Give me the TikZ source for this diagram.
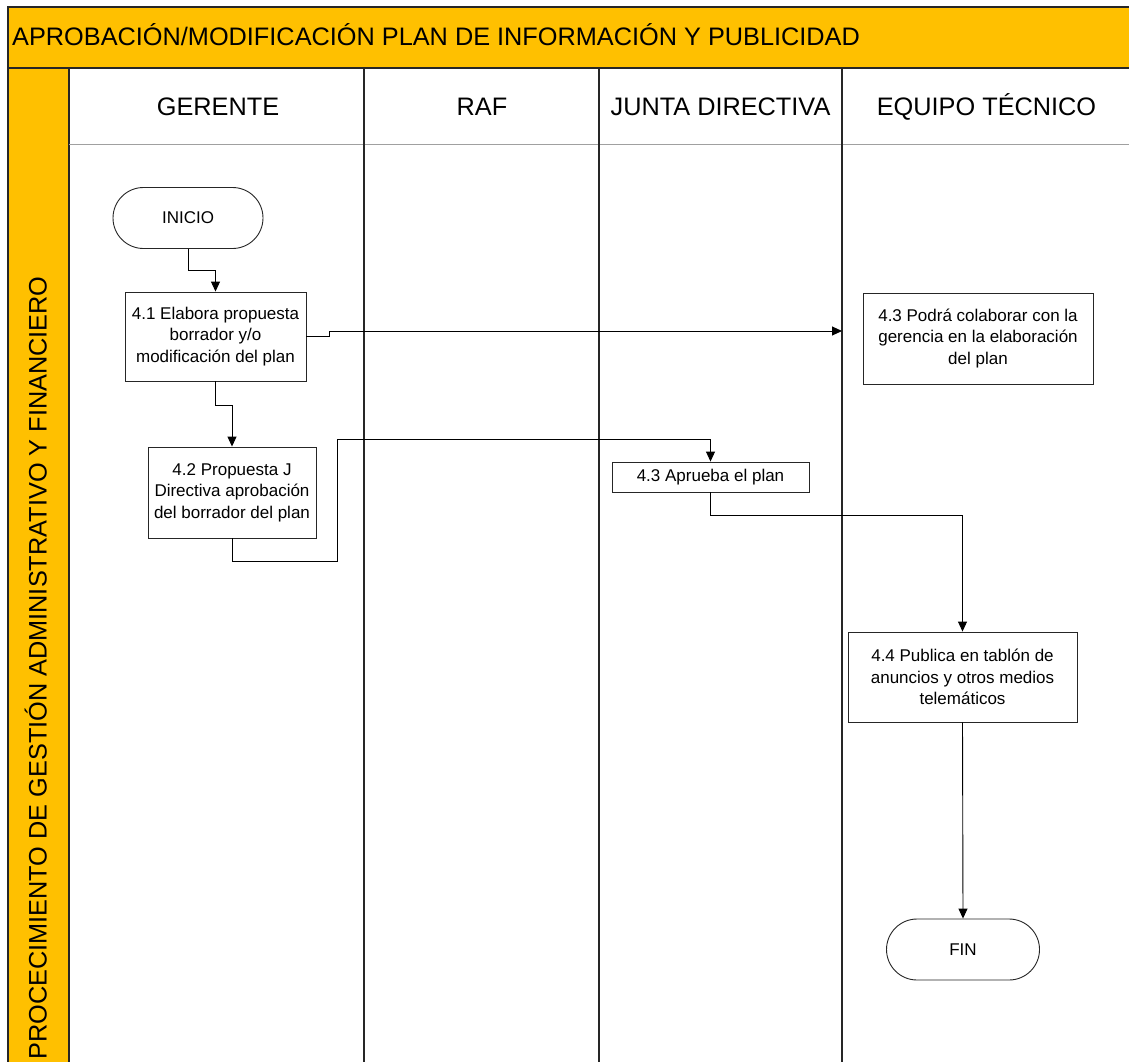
\documentclass[tikz,border=0pt]{standalone}
\usepackage{fontspec}
\setmainfont{Liberation Sans}
\usetikzlibrary{arrows.meta,shapes.misc,calc}

\definecolor{bandorange}{HTML}{FFC000}
\definecolor{headline}{HTML}{A0A0A0}

\begin{document}
\begin{tikzpicture}[x=1pt,y=-1pt,
  stepbox/.style={draw=black!85, line width=0.9pt, fill=white, inner sep=0pt,
    align=center, font=\fontsize{17}{21.5}\selectfont},
  terminal/.style={stepbox, rounded rectangle},
  flow/.style={draw=black, line width=0.9pt, -{Triangle[length=10pt,width=9pt]}},
  lane/.style={draw=black!85, line width=1.3pt},
  bigtext/.style={font=\fontsize{25.3}{30}\selectfont, inner sep=0pt}
]
\useasboundingbox (0,0) rectangle (1129,1062);

% swimlane frame
\begin{scope}
  \clip (0,0) rectangle (1129,1062);
  \fill[white] (0,0) rectangle (1129,1062);
  \filldraw[fill=bandorange, draw=black!85, line width=1.3pt] (8,7) rectangle (1140,68);
  \filldraw[fill=bandorange, draw=black!85, line width=1.3pt] (8,68) rectangle (69,1080);
  \draw[headline, line width=1pt] (69,144) -- (1140,144);
  \foreach \x in {364,599,842} \draw[lane] (\x,68) -- (\x,1080);
\end{scope}

% titles
\node[bigtext, anchor=base west] (title) at (12,46)
  {APROBACIÓN/MODIFICACIÓN PLAN DE INFORMACIÓN Y PUBLICIDAD};
\node[bigtext, anchor=base west, rotate=90] (proc) at (46.5,1060)
  {PROCECIMIENTO DE GESTIÓN ADMINISTRATIVO Y FINANCIERO};
\node[bigtext, anchor=base] (hGer) at (218,116) {GERENTE};
\node[bigtext, anchor=base] (hRaf) at (482,116) {RAF};
\node[bigtext, anchor=base] (hJun) at (720.5,116) {JUNTA DIRECTIVA};
\node[bigtext, anchor=base] (hEq) at (986.5,116) {EQUIPO TÉCNICO};

% steps
\node[terminal, minimum width=150, minimum height=61] (inicio) at (188,218) {INICIO};
\node[stepbox, minimum width=181, minimum height=89] (s41) at (215.5,336.5)
  {4.1 Elabora propuesta\\borrador y/o\\modificación del plan};
\node[stepbox, minimum width=168, minimum height=91] (s42) at (232,492.5)
  {4.2 Propuesta J\\Directiva aprobación\\del borrador del plan};
\node[stepbox, minimum width=197, minimum height=30] (s43a) at (710.5,477)
  {4.3 Aprueba el plan};
\node[stepbox, minimum width=230, minimum height=91] (s43b) at (978,338.5)
  {4.3 Podrá colaborar con la\\gerencia en la elaboración\\del plan};
\node[stepbox, minimum width=229, minimum height=90] (s44) at (962.5,677)
  {4.4 Publica en tablón de\\anuncios y otros medios\\telemáticos};
\node[terminal, minimum width=153, minimum height=61] (fin) at (963,949.5) {FIN};

\coordinate (c43in) at (842,331);

% connectors
\draw[flow] (inicio.south) -- ++(0,21) -| (s41.north);
\draw[flow] (s41.south) -- ++(0,24) -| (s42.north);
\draw[flow] (s41.east) -- ++(23,0) -- ++(0,-5.5) -- (c43in);
\draw[flow] (s42.south) -- ++(0,23) -| (337.5,439) -| (s43a.north);
\draw[flow] (s43a.south) -- ++(0,23) -| (s44.north);
\draw[flow] (s44.south) -- (fin.north);
\end{tikzpicture}
\end{document}
